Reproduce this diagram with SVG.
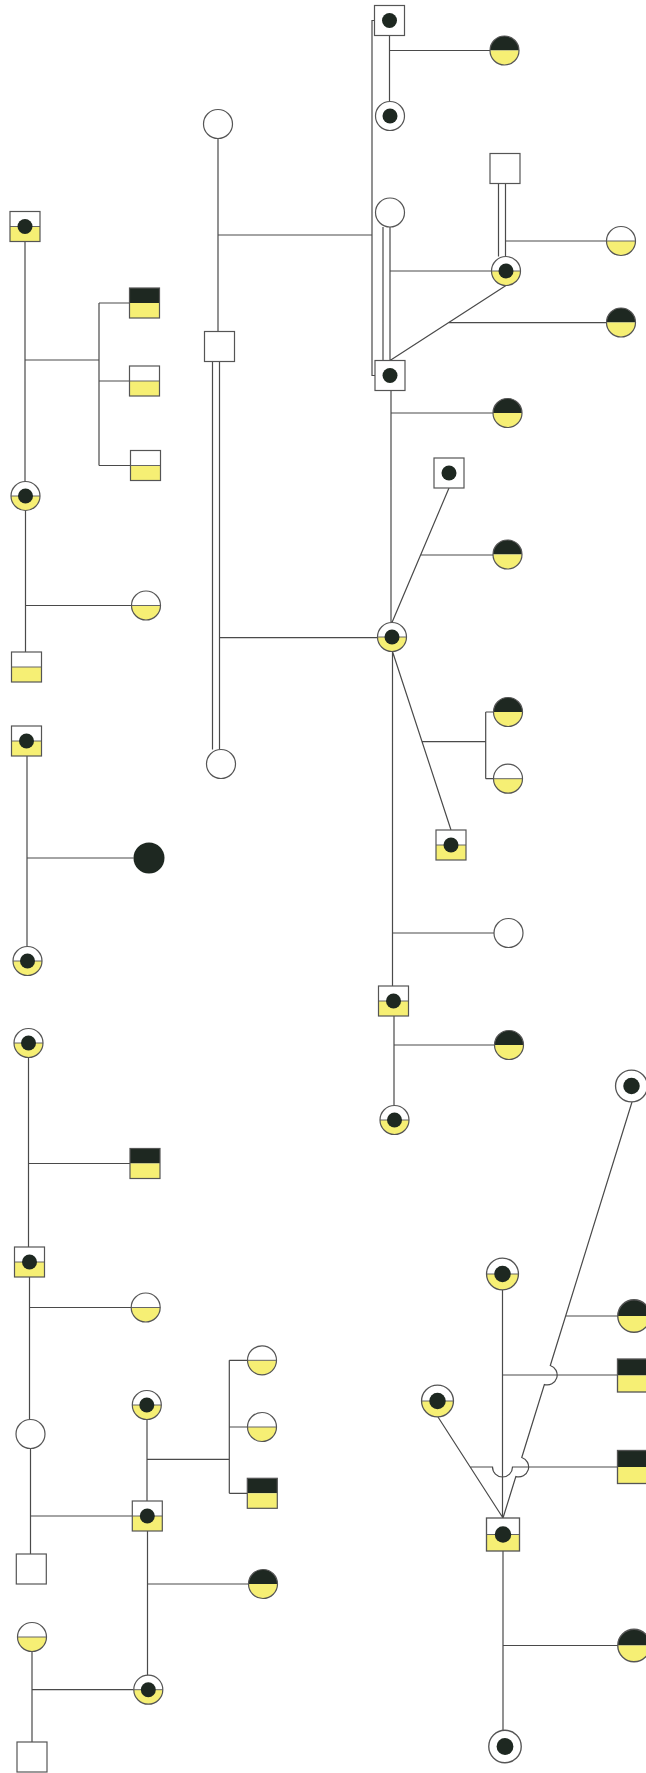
<svg xmlns="http://www.w3.org/2000/svg" width="646" height="1773" viewBox="0 0 646 1773">
<style>
.ln{fill:none;stroke:#4a4a4a;stroke-width:1.2}
.ol{fill:none;stroke:#555;stroke-width:1.2}
.w{fill:#fff}
.y{fill:#f6ef74}
.k{fill:#1e2821}
.mid{stroke:#666;stroke-width:1}
</style>
<defs>
<circle id="dot" r="7.5" class="k"/>
<g id="sq"><rect x="-15" y="-15" width="30" height="30" class="w"/><rect x="-15" y="-15" width="30" height="30" class="ol"/></g>
<g id="sqY"><rect x="-15" y="-15" width="30" height="30" class="w"/><rect x="-15" y="0" width="30" height="15" class="y"/><line x1="-15" y1="0" x2="15" y2="0" class="mid"/><rect x="-15" y="-15" width="30" height="30" class="ol"/></g>
<g id="sqB"><rect x="-15" y="-15" width="30" height="15" class="k"/><rect x="-15" y="0" width="30" height="15" class="y"/><rect x="-15" y="-15" width="30" height="30" class="ol"/></g>
<g id="ci"><circle r="14.5" class="w"/><circle r="14.5" class="ol"/></g>
<g id="ciY"><circle r="14.5" class="w"/><path d="M-14.5 0A14.5 14.5 0 0 0 14.5 0Z" class="y"/><line x1="-14.5" y1="0" x2="14.5" y2="0" class="mid"/><circle r="14.5" class="ol"/></g>
<g id="ciB"><path d="M-14.5 0A14.5 14.5 0 0 1 14.5 0Z" class="k"/><path d="M-14.5 0A14.5 14.5 0 0 0 14.5 0Z" class="y"/><circle r="14.5" class="ol"/></g>
<g id="ciK"><circle r="15.5" class="k"/></g>
<g id="sqd"><use href="#sq"/><use href="#dot"/></g>
<g id="cid"><use href="#ci"/><use href="#dot"/></g>
<g id="sqYd"><use href="#sqY"/><use href="#dot"/></g>
<g id="ciYd"><use href="#ciY"/><use href="#dot"/></g>
</defs>
<rect width="646" height="1773" fill="#fff"/>
<g id="connectors" class="ln">
<path d="M25 241.5V481.5M25 360H99M99 303V465.5M99 303H129.5M99 381H129.5M99 465.5H130.5M25.5 510.5V652M25.5 605.5H131.5"/>
<path d="M27 756V946.5M27 858H133.5"/>
<path d="M28.5 1057.5V1247M28.5 1163.5H130M29.5 1277V1419.5M29.5 1307.5H131.2M30.5 1448.5V1554M30.5 1516H132.3"/>
<path d="M147 1419.5V1501M147 1459.3H229.3M229.3 1360.3V1493.3M229.3 1360.3H247.5M229.3 1427H247.5M229.3 1493.3H247.3"/>
<path d="M147.5 1531V1675M147.5 1584H248.5M32 1651.5V1742M32 1689.7H133.8"/>
<path d="M218 138.5V331.5M218 235H372M212.5 361.5V749.5M219.5 361.5V749.5M219.5 637.7H377.5"/>
<path d="M389.5 35.5V101.5M389.5 50.5H490M374.5 20.5H372V375.5H375.5"/>
<path d="M383 227V360.5M390 227V360.5M390 271H491.5M498.5 183.5V256.5M505.5 183.5V256.5M505.5 241H606.5M506 285.5L390 360.5M448.5 322.7H606.5"/>
<path d="M391 390.5V622.5M391 413H493M449 488L392 622.5M420.6 555H493"/>
<path d="M392.5 651.5V986M392.5 651.5L451 830M422 741.7H485.7M485.7 712V778.7M485.7 712H493.5M485.7 778.7H493.5M392.5 933H494M394 1016V1105.5M394 1045H494.5"/>
<path d="M502.5 1290V1518M632 1102L550.3 1365.45A10 10 0 0 1 544.38 1384.55L521.77 1457.45A10 10 0 0 1 515.85 1476.55L503 1518M565.6 1316H618M502.5 1375H617.5M438 1417L503 1518M470.2 1467H492.5A10 10 0 0 0 512.5 1467H617.5M503 1551V1730.5M503 1645.5H618"/>
</g>
<g id="n1"><use href="#sqYd" x="25" y="226.5"/></g>
<g id="n2"><use href="#sqB" x="144.5" y="303"/></g>
<g id="n3"><use href="#sqY" x="144.5" y="381"/></g>
<g id="n4"><use href="#sqY" x="145.5" y="465.5"/></g>
<g id="n5"><use href="#ciYd" x="25.5" y="496"/></g>
<g id="n6"><use href="#ciY" x="146" y="605.5"/></g>
<g id="n7"><use href="#sqY" x="26.5" y="667"/></g>
<g id="n8"><use href="#sqYd" x="26.5" y="741"/></g>
<g id="n9"><use href="#ciK" x="149" y="858"/></g>
<g id="n10"><use href="#ciYd" x="27.5" y="961"/></g>
<g id="n11"><use href="#ciYd" x="28.5" y="1043"/></g>
<g id="n12"><use href="#sqB" x="145" y="1163.5"/></g>
<g id="n13"><use href="#sqYd" x="29.5" y="1262"/></g>
<g id="n14"><use href="#ciY" x="145.7" y="1307.5"/></g>
<g id="n15"><use href="#ci" x="30.5" y="1434"/></g>
<g id="n16"><use href="#sq" x="31.3" y="1569"/></g>
<g id="n17"><use href="#ciYd" x="146.8" y="1405"/></g>
<g id="n18"><use href="#sqYd" x="147.3" y="1516"/></g>
<g id="n19"><use href="#ciY" x="262" y="1360.3"/></g>
<g id="n20"><use href="#ciY" x="262" y="1427"/></g>
<g id="n21"><use href="#sqB" x="262.3" y="1493.3"/></g>
<g id="n22"><use href="#ciB" x="263" y="1584"/></g>
<g id="n23"><use href="#ciY" x="32" y="1637"/></g>
<g id="n24"><use href="#ciYd" x="148.3" y="1689.7"/></g>
<g id="n25"><use href="#sq" x="32" y="1757"/></g>
<g id="n26"><use href="#ci" x="218" y="124"/></g>
<g id="n27"><use href="#sq" x="219.5" y="346.5"/></g>
<g id="n28"><use href="#ci" x="221" y="764"/></g>
<g id="n29"><use href="#sqd" x="389.5" y="20.5"/></g>
<g id="n30"><use href="#ciB" x="504.5" y="50.5"/></g>
<g id="n31"><use href="#cid" x="390" y="116"/></g>
<g id="n32"><use href="#ci" x="390" y="212.5"/></g>
<g id="n33"><use href="#sq" x="505" y="168.5"/></g>
<g id="n34"><use href="#ciYd" x="506" y="271"/></g>
<g id="n35"><use href="#ciY" x="621" y="241"/></g>
<g id="n36"><use href="#ciB" x="621" y="322.5"/></g>
<g id="n37"><use href="#sqd" x="390" y="375.5"/></g>
<g id="n38"><use href="#ciB" x="507.5" y="413"/></g>
<g id="n39"><use href="#sqd" x="449" y="473"/></g>
<g id="n40"><use href="#ciB" x="507.5" y="554.5"/></g>
<g id="n41"><use href="#ciYd" x="392" y="637"/></g>
<g id="n42"><use href="#ciB" x="508" y="712"/></g>
<g id="n43"><use href="#ciY" x="508" y="778.7"/></g>
<g id="n44"><use href="#sqYd" x="451" y="845"/></g>
<g id="n45"><use href="#ci" x="508.5" y="933"/></g>
<g id="n46"><use href="#sqYd" x="393.5" y="1001"/></g>
<g id="n47"><use href="#ciB" x="509" y="1045"/></g>
<g id="n48"><use href="#ciYd" x="394.5" y="1120"/></g>
<g id="n49"><use href="#cid" transform="translate(631.5 1086) scale(1.1)"/></g>
<g id="n50"><use href="#ciB" transform="translate(634 1316) scale(1.12)"/></g>
<g id="n51"><use href="#ciYd" transform="translate(502.5 1274) scale(1.1)"/></g>
<g id="n52"><use href="#sqB" transform="translate(634 1375.5) scale(1.1)"/></g>
<g id="n53"><use href="#sqB" transform="translate(634 1467) scale(1.1)"/></g>
<g id="n54"><use href="#ciYd" transform="translate(437.5 1401) scale(1.1)"/></g>
<g id="n55"><use href="#sqYd" transform="translate(503 1534.5) scale(1.1)"/></g>
<g id="n56"><use href="#ciB" transform="translate(634 1645.5) scale(1.12)"/></g>
<g id="n57"><use href="#cid" transform="translate(505 1746.5) scale(1.12)"/></g>
</svg>
